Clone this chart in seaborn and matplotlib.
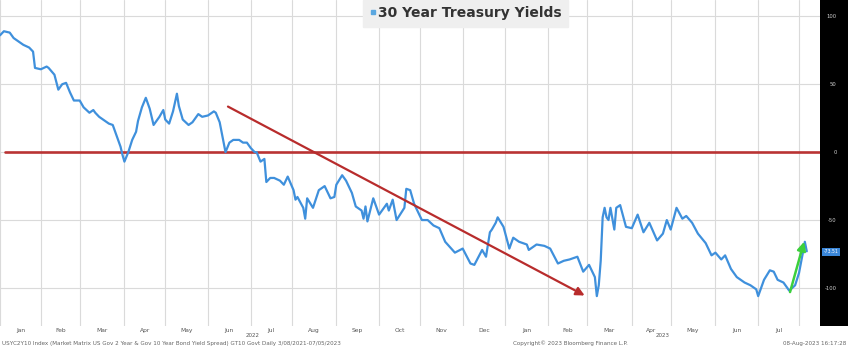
import numpy as np
import pandas as pd
import matplotlib
matplotlib.use("Agg")
import matplotlib.pyplot as plt
import matplotlib.transforms as mtransforms
from matplotlib.lines import Line2D
import seaborn as sns

# ---------------- data ----------------
dates = [
    "2022-01-03", "2022-01-05", "2022-01-10", "2022-01-12", "2022-01-17", "2022-01-19",
    "2022-01-24", "2022-01-26", "2022-01-27",
    "2022-02-01", "2022-02-04", "2022-02-07", "2022-02-10", "2022-02-14", "2022-02-16",
    "2022-02-18", "2022-02-22", "2022-02-24",
    "2022-03-01", "2022-03-03", "2022-03-08", "2022-03-10", "2022-03-11", "2022-03-15",
    "2022-03-17", "2022-03-22", "2022-03-24", "2022-03-28", "2022-03-30", "2022-03-31",
    "2022-04-01", "2022-04-05", "2022-04-07", "2022-04-11", "2022-04-12", "2022-04-14",
    "2022-04-18", "2022-04-20", "2022-04-22", "2022-04-25", "2022-04-27", "2022-04-29",
    "2022-05-02", "2022-05-04", "2022-05-06", "2022-05-10", "2022-05-11", "2022-05-13",
    "2022-05-18", "2022-05-20", "2022-05-25", "2022-05-27",
    "2022-06-01", "2022-06-06", "2022-06-07", "2022-06-09", "2022-06-14", "2022-06-16",
    "2022-06-20", "2022-06-23", "2022-06-27", "2022-06-29",
    "2022-07-01", "2022-07-05", "2022-07-06", "2022-07-08", "2022-07-12", "2022-07-13",
    "2022-07-15", "2022-07-19", "2022-07-22", "2022-07-26", "2022-07-28",
    "2022-08-02", "2022-08-03", "2022-08-04", "2022-08-09", "2022-08-10", "2022-08-11",
    "2022-08-16", "2022-08-19", "2022-08-24", "2022-08-29", "2022-08-31",
    "2022-09-01", "2022-09-06", "2022-09-08", "2022-09-13", "2022-09-15", "2022-09-20",
    "2022-09-21", "2022-09-22", "2022-09-23", "2022-09-28",
    "2022-10-03", "2022-10-07", "2022-10-10", "2022-10-12", "2022-10-14", "2022-10-20",
    "2022-10-21", "2022-10-25", "2022-10-27",
    "2022-11-02", "2022-11-07", "2022-11-10", "2022-11-15", "2022-11-18", "2022-11-25",
    "2022-12-01", "2022-12-07", "2022-12-09", "2022-12-15", "2022-12-19", "2022-12-21",
    "2022-12-22", "2022-12-26", "2022-12-27", "2022-12-30",
    "2023-01-04", "2023-01-06", "2023-01-11", "2023-01-17", "2023-01-18", "2023-01-24",
    "2023-01-30",
    "2023-02-02", "2023-02-08", "2023-02-13", "2023-02-16", "2023-02-22", "2023-02-27",
    "2023-03-02", "2023-03-07", "2023-03-08", "2023-03-09", "2023-03-10", "2023-03-13",
    "2023-03-14", "2023-03-15", "2023-03-16", "2023-03-17", "2023-03-21", "2023-03-22",
    "2023-03-24", "2023-03-29",
    "2023-04-03", "2023-04-06", "2023-04-11", "2023-04-14", "2023-04-20", "2023-04-25",
    "2023-04-27",
    "2023-05-01", "2023-05-04", "2023-05-09", "2023-05-11", "2023-05-16", "2023-05-19",
    "2023-05-25", "2023-05-30",
    "2023-06-01", "2023-06-06", "2023-06-08", "2023-06-13", "2023-06-16", "2023-06-22",
    "2023-06-27", "2023-06-30",
    "2023-07-03", "2023-07-06", "2023-07-11", "2023-07-13", "2023-07-17", "2023-07-20",
    "2023-07-25", "2023-07-28",
    "2023-08-01", "2023-08-03", "2023-08-04", "2023-08-07",
]
spread = [
    86, 89, 88, 84, 81, 79, 77, 74, 62,
    61, 63, 62, 57, 46, 50, 51, 44, 38,
    38, 33, 29, 31, 29, 26, 24, 21, 20, 12, 4, -2,
    -7, 0, 9, 15, 23, 33, 40, 32, 20, 22, 26, 31,
    24, 21, 30, 43, 34, 24, 20, 22, 28, 26,
    27, 30, 29, 22, 0, 7, 9, 9, 7, 7,
    3, 0, 0, -7, -5, -22, -19, -19, -21, -24, -18,
    -28, -35, -33, -41, -49, -34, -41, -28, -25, -34, -33,
    -24, -17, -21, -30, -40, -43, -49, -40, -51, -34,
    -46, -38, -43, -35, -50, -41, -27, -28, -38,
    -50, -50, -54, -56, -66, -74,
    -71, -82, -83, -72, -77, -59, -57, -52, -48, -55,
    -71, -63, -66, -68, -72, -68, -69,
    -71, -82, -80, -79, -77, -88,
    -83, -92, -106, -98, -80, -48, -41, -48, -50, -41, -57, -41, -39, -55,
    -56, -46, -59, -52, -65, -60, -50,
    -57, -41, -49, -47, -52, -60, -67, -76,
    -74, -79, -76, -86, -92, -96, -98, -101,
    -106, -94, -87, -88, -94, -96, -102, -98,
    -89, -74, -66, -73,
]

month_labels = ["Jan", "Feb", "Mar", "Apr", "May", "Jun", "Jul", "Aug", "Sep", "Oct",
                "Nov", "Dec", "Jan", "Feb", "Mar", "Apr", "May", "Jun", "Jul"]
year_labels = ["2022", "2023"]
y_ticks = [100, 50, 0, -50, -100]
y_tick_labels = ["100", "50", "0", "-50", "-100"]
last_value_label = "-73.51"
legend_label = "30 Year Treasury Yields"
footer_left = ("USYC2Y10 Index (Market Matrix US Gov 2 Year & Gov 10 Year Bond Yield Spread) "
               "GT10 Govt Daily 3/08/2021-07/05/2023")
footer_mid = "Copyright\u00a9 2023 Bloomberg Finance L.P."
footer_right = "08-Aug-2023 16:17:28"

red_arrow = (("2022-06-14", 34.5), ("2023-03-01", -106.5))
green_arrow = (("2023-07-25", -105.0), ("2023-08-04", -64.0))

# ---------------- weekday axis ----------------
bdays = pd.bdate_range("2022-01-03", "2023-08-31")
def xpos(d):
    return int(bdays.get_indexer(pd.to_datetime([d]))[0])

x_idx = bdays.get_indexer(pd.to_datetime(dates))
df = pd.DataFrame({"x": x_idx, "spread": spread})

month_starts = []
for m in pd.date_range("2022-01-01", "2023-08-01", freq="MS"):
    month_starts.append(int(np.searchsorted(bdays.values, np.datetime64(m))))
XMAX = 421.8
bounds = month_starts + [XMAX]
centers = [(bounds[i] + bounds[i + 1]) / 2 for i in range(len(month_labels))]

# ---------------- figure ----------------
sns.set_style("white")
plt.rcParams["font.family"] = ["DejaVu Sans"]

W, H = 848, 347
fig = plt.figure(figsize=(W / 100, H / 100), dpi=100)
bottom = (H - 326) / H
ax = fig.add_axes([0, bottom, 820 / W, 326 / H])
ax2 = fig.add_axes([820 / W, bottom, 28 / W, 326 / H])

YMIN, YMAX = -128, 112
ax.set_xlim(0, XMAX)
ax.set_ylim(YMIN, YMAX)

ax.set_xticks(month_starts)
ax.set_xticklabels([])
ax.set_xticks(centers, minor=True)
ax.set_xticklabels(month_labels, minor=True, fontsize=4.3, color="#555555")
ax.set_yticks(y_ticks)
ax.set_yticklabels([])
ax.tick_params(which="both", length=0)
ax.tick_params(axis="x", which="minor", pad=1.5)
ax.grid(True, which="major", color="#dadada", lw=0.8)
ax.set_axisbelow(True)
for s in ax.spines.values():
    s.set_visible(False)

ax.axhline(0, xmin=5 / 820, xmax=1, color="#b93333", lw=1.9, zorder=2)

sns.lineplot(data=df, x="x", y="spread", ax=ax, color="#3f90dc", lw=1.6,
             zorder=3, legend=False)
ax.set_xlabel("")
ax.set_ylabel("")

# red trend arrow
(rs, rv), (re_, rev) = red_arrow
ax.annotate("", xy=(xpos(re_), rev), xytext=(xpos(rs), rv),
            arrowprops=dict(arrowstyle="-|>,head_length=0.5,head_width=0.25",
                            color="#b82c2c", lw=1.6), zorder=4)
# green arrow
(gs, gv), (ge, gev) = green_arrow
ax.annotate("", xy=(xpos(ge), gev), xytext=(xpos(gs), gv),
            arrowprops=dict(arrowstyle="-|>,head_length=0.5,head_width=0.25",
                            color="#3cd03c", lw=1.8), zorder=5)

# legend
handle = Line2D([], [], marker="s", linestyle="none", color="#5aa7e0", markersize=3)
leg = ax.legend([handle], [legend_label], loc="upper left",
                bbox_to_anchor=(363 / 820, 1.0), borderaxespad=0,
                frameon=True, fancybox=False, framealpha=1,
                facecolor="#efefef", edgecolor="#efefef",
                handlelength=0.5, handletextpad=0.15, borderpad=0.45,
                prop=dict(size=10, weight="bold"))
for t in leg.get_texts():
    t.set_color("#333333")

# year labels
tr = ax.get_xaxis_transform()
ax.text(130, -0.028, year_labels[0], transform=tr, ha="center", va="center",
        fontsize=4.0, color="#555555")
ax.text((260 + XMAX) / 2, -0.028, year_labels[1], transform=tr, ha="center",
        va="center", fontsize=4.0, color="#555555")

# right black value strip
ax2.set_facecolor("black")
ax2.set_xlim(0, 1)
ax2.set_ylim(YMIN, YMAX)
ax2.set_xticks([])
ax2.set_yticks(y_ticks)
ax2.set_yticklabels(y_tick_labels)
ax2.tick_params(axis="y", direction="in", length=2.5, width=0.6, color="#999999",
                labelcolor="#cfcfcf", labelsize=3.8, pad=-12)
for s in ax2.spines.values():
    s.set_visible(False)
btr = mtransforms.blended_transform_factory(ax2.transAxes, ax2.transData)
ax2.text(0.12, spread[-1] - 0.5, last_value_label, transform=btr, fontsize=3.3,
         color="white", ha="left", va="center",
         bbox=dict(boxstyle="square,pad=0.35", fc="#3a86d8", ec="none"))

# footer
fig.text(2 / W, 1 - 343 / H, footer_left, fontsize=4.1, color="#666666", va="center")
fig.text(513 / W, 1 - 343 / H, footer_mid, fontsize=4.1, color="#666666", va="center")
fig.text(846 / W, 1 - 343 / H, footer_right, fontsize=4.1, color="#666666",
         va="center", ha="right")

fig.savefig("out.png", dpi=100, facecolor="white")
